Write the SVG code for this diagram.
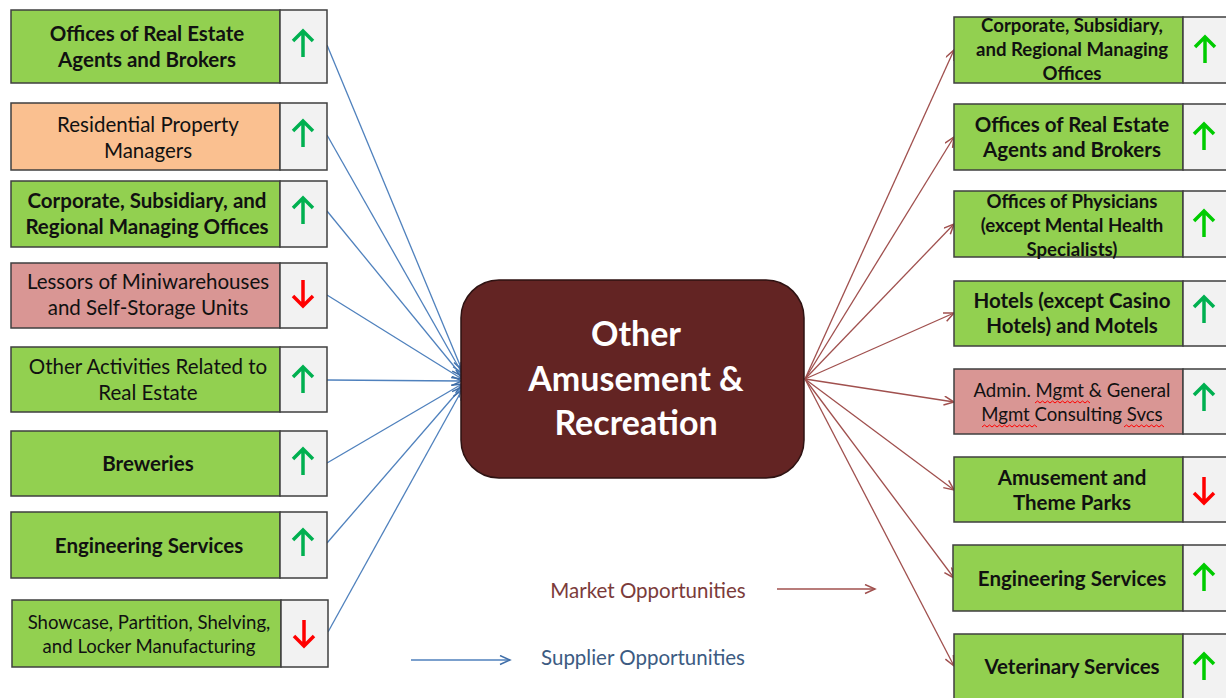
<svg xmlns="http://www.w3.org/2000/svg" width="1226" height="698" viewBox="0 0 1226 698">
<defs>
<style>
.box{stroke:#3f3f3f;stroke-width:1.5}
.g{fill:#92d050}.o{fill:#fac090}.p{fill:#d99694}
.cell{fill:#f2f2f2;stroke:#3f3f3f;stroke-width:1.5}
.t{font-family:Lato,"Liberation Sans",sans-serif;font-size:20.5px;fill:#111;text-anchor:middle}
.b{font-weight:bold}
.s16{font-size:18.6px}
.up{stroke:#00b050;stroke-width:3.5;fill:none;stroke-linecap:butt}
.up2{stroke:#00cc00;stroke-width:3.5;fill:none}
.dn{stroke:#ff0000;stroke-width:3.5;fill:none}
.bl{stroke:#4f81bd;stroke-width:1.3;fill:none}
.rd{stroke:#a0504e;stroke-width:1.3;fill:none}
.wav{stroke:#ff0000;stroke-width:1;fill:none}
</style>
<marker id="mb" markerUnits="userSpaceOnUse" markerWidth="14" markerHeight="12" refX="11" refY="5" orient="auto"><path d="M1,0.5 L11,5 L1,9.5" fill="none" stroke="#3f6ea8" stroke-width="1.5"/></marker>
<marker id="mr" markerUnits="userSpaceOnUse" markerWidth="14" markerHeight="12" refX="11" refY="5" orient="auto"><path d="M1,0.5 L11,5 L1,9.5" fill="none" stroke="#a0504e" stroke-width="1.5"/></marker>
<path id="aup" d="M0,13 V-13 M-10,-3 L0,-13 L10,-3"/>
<path id="adn" d="M0,-13 V13 M-10,3 L0,13 L10,3"/>
</defs>
<rect width="1226" height="698" fill="#fff"/>

<g id="connectors">
<line class="bl" x1="327" y1="45" x2="462" y2="370" marker-end="url(#mb)"/>
<line class="bl" x1="327" y1="135" x2="462" y2="373" marker-end="url(#mb)"/>
<line class="bl" x1="327" y1="211" x2="462" y2="376" marker-end="url(#mb)"/>
<line class="bl" x1="327" y1="295" x2="462" y2="379" marker-end="url(#mb)"/>
<line class="bl" x1="327" y1="380" x2="462" y2="381" marker-end="url(#mb)"/>
<line class="bl" x1="327" y1="463" x2="462" y2="384" marker-end="url(#mb)"/>
<line class="bl" x1="327" y1="543" x2="462" y2="387" marker-end="url(#mb)"/>
<line class="bl" x1="328" y1="632" x2="462" y2="390" marker-end="url(#mb)"/>
<line class="rd" x1="805" y1="379" x2="954" y2="50" marker-end="url(#mr)"/>
<line class="rd" x1="805" y1="379" x2="954" y2="137" marker-end="url(#mr)"/>
<line class="rd" x1="805" y1="379" x2="954" y2="224" marker-end="url(#mr)"/>
<line class="rd" x1="805" y1="379" x2="954" y2="313" marker-end="url(#mr)"/>
<line class="rd" x1="805" y1="379" x2="954" y2="402" marker-end="url(#mr)"/>
<line class="rd" x1="805" y1="379" x2="954" y2="490" marker-end="url(#mr)"/>
<line class="rd" x1="805" y1="379" x2="954" y2="578" marker-end="url(#mr)"/>
<line class="rd" x1="805" y1="379" x2="954" y2="666" marker-end="url(#mr)"/>
<line class="rd" x1="777" y1="589" x2="875" y2="589" marker-end="url(#mr)"/>
<line class="bl" x1="411" y1="660" x2="510" y2="660" marker-end="url(#mb)"/>
</g>

<g id="center">
<rect x="461" y="280" width="343" height="198" rx="38" fill="#632423" stroke="#2e1212" stroke-width="1.5"/>
<text class="t b" style="font-size:34px;fill:#fff" x="636" y="346">Other</text>
<text class="t b" style="font-size:34px;fill:#fff" x="636" y="391">Amusement &amp;</text>
<text class="t b" style="font-size:34px;fill:#fff" x="636" y="435">Recreation</text>
</g>

<g id="L1"><rect class="box g" x="11" y="10" width="269" height="73"/><rect class="cell" x="280" y="10" width="47" height="73"/>
<text class="t b" x="147" y="41">Offices of Real Estate</text><text class="t b" x="147" y="67">Agents and Brokers</text>
<use href="#aup" class="up" x="303" y="44"/></g>
<g id="L2"><rect class="box o" x="11" y="103" width="269" height="67"/><rect class="cell" x="280" y="103" width="47" height="67"/>
<text class="t" x="148" y="132">Residential Property</text><text class="t" x="148" y="158">Managers</text>
<use href="#aup" class="up" x="303" y="134"/></g>
<g id="L3"><rect class="box g" x="11" y="181" width="269" height="66"/><rect class="cell" x="280" y="181" width="47" height="66"/>
<text class="t b" x="147" y="208">Corporate, Subsidiary, and</text><text class="t b" x="147" y="234">Regional Managing Offices</text>
<use href="#aup" class="up" x="303" y="211"/></g>
<g id="L4"><rect class="box p" x="11" y="263" width="269" height="65"/><rect class="cell" x="280" y="263" width="47" height="65"/>
<text class="t" x="148" y="289">Lessors of Miniwarehouses</text><text class="t" x="148" y="315">and Self-Storage Units</text>
<use href="#adn" class="dn" x="303" y="293"/></g>
<g id="L5"><rect class="box g" x="11" y="347" width="269" height="65"/><rect class="cell" x="280" y="347" width="47" height="65"/>
<text class="t" x="148" y="374">Other Activities Related to</text><text class="t" x="148" y="400">Real Estate</text>
<use href="#aup" class="up" x="303" y="380"/></g>
<g id="L6"><rect class="box g" x="11" y="431" width="269" height="65"/><rect class="cell" x="280" y="431" width="47" height="65"/>
<text class="t b" x="148" y="471">Breweries</text>
<use href="#aup" class="up" x="303" y="462"/></g>
<g id="L7"><rect class="box g" x="11" y="512" width="269" height="66"/><rect class="cell" x="280" y="512" width="47" height="66"/>
<text class="t b" x="149" y="553">Engineering Services</text>
<use href="#aup" class="up" x="303" y="543"/></g>
<g id="L8"><rect class="box g" x="12" y="600" width="269" height="67"/><rect class="cell" x="281" y="600" width="47" height="67"/>
<text class="t s16" x="149" y="629">Showcase, Partition, Shelving,</text><text class="t s16" x="149" y="653">and Locker Manufacturing</text>
<use href="#adn" class="dn" x="304" y="633"/></g>

<g id="R1"><rect class="box g" x="954" y="17" width="229" height="66"/><rect class="cell" x="1183" y="17" width="50" height="66"/>
<text class="t b s16" x="1072" y="32">Corporate, Subsidiary,</text><text class="t b s16" x="1072" y="56">and Regional Managing</text><text class="t b s16" x="1072" y="80">Offices</text>
<use href="#aup" class="up2" x="1205" y="50"/></g>
<g id="R2"><rect class="box g" x="954" y="104" width="229" height="66"/><rect class="cell" x="1183" y="104" width="50" height="66"/>
<text class="t b" x="1072" y="132">Offices of Real Estate</text><text class="t b" x="1072" y="157">Agents and Brokers</text>
<use href="#aup" class="up2" x="1204" y="137"/></g>
<g id="R3"><rect class="box g" x="954" y="191" width="229" height="66"/><rect class="cell" x="1183" y="191" width="50" height="66"/>
<text class="t b s16" x="1072" y="208">Offices of Physicians</text><text class="t b s16" x="1072" y="232">(except Mental Health</text><text class="t b s16" x="1072" y="256">Specialists)</text>
<use href="#aup" class="up2" x="1204" y="224"/></g>
<g id="R4"><rect class="box g" x="954" y="281" width="229" height="65"/><rect class="cell" x="1183" y="281" width="50" height="65"/>
<text class="t b" x="1072" y="308">Hotels (except Casino</text><text class="t b" x="1072" y="333">Hotels) and Motels</text>
<use href="#aup" class="up" x="1204" y="310"/></g>
<g id="R5"><rect class="box p" x="954" y="369" width="229" height="65"/><rect class="cell" x="1183" y="369" width="50" height="65"/>
<text class="t s16" x="1072" y="397">Admin. Mgmt &amp; General</text><text class="t s16" x="1072" y="421">Mgmt Consulting Svcs</text>
<path class="wav" d="M1035,403 l2.5,-2 l2.5,2 l2.5,-2 l2.5,2 l2.5,-2 l2.5,2 l2.5,-2 l2.5,2 l2.5,-2 l2.5,2 l2.5,-2 l2.5,2 l2.5,-2 l2.5,2 l2.5,-2 l2.5,2 l2.5,-2 l2.5,2 l2.5,-2 l2.5,2 l2.5,-2 l2.5,2"/>
<path class="wav" d="M982,427 l2.5,-2 l2.5,2 l2.5,-2 l2.5,2 l2.5,-2 l2.5,2 l2.5,-2 l2.5,2 l2.5,-2 l2.5,2 l2.5,-2 l2.5,2 l2.5,-2 l2.5,2 l2.5,-2 l2.5,2 l2.5,-2 l2.5,2 l2.5,-2 l2.5,2 l2.5,-2 l2.5,2"/>
<path class="wav" d="M1124,427 l2.5,-2 l2.5,2 l2.5,-2 l2.5,2 l2.5,-2 l2.5,2 l2.5,-2 l2.5,2 l2.5,-2 l2.5,2 l2.5,-2 l2.5,2 l2.5,-2 l2.5,2 l2.5,-2 l2.5,2"/>
<use href="#aup" class="up" x="1204" y="398"/></g>
<g id="R6"><rect class="box g" x="954" y="457" width="229" height="65"/><rect class="cell" x="1183" y="457" width="50" height="65"/>
<text class="t b" x="1072" y="485">Amusement and</text><text class="t b" x="1072" y="510">Theme Parks</text>
<use href="#adn" class="dn" x="1204" y="490"/></g>
<g id="R7"><rect class="box g" x="953" y="545" width="230" height="66"/><rect class="cell" x="1183" y="545" width="50" height="66"/>
<text class="t b" x="1072" y="586">Engineering Services</text>
<use href="#aup" class="up2" x="1204" y="578"/></g>
<g id="R8"><rect class="box g" x="954" y="634" width="229" height="70"/><rect class="cell" x="1183" y="634" width="50" height="70"/>
<text class="t b" x="1072" y="674">Veterinary Services</text>
<use href="#aup" class="up2" x="1204" y="667"/></g>

<g id="legend">
<text class="t" style="fill:#7b3b3a" x="648" y="598">Market Opportunities</text>
<text class="t" style="fill:#3c5b82" x="643" y="665">Supplier Opportunities</text>
</g>
</svg>
